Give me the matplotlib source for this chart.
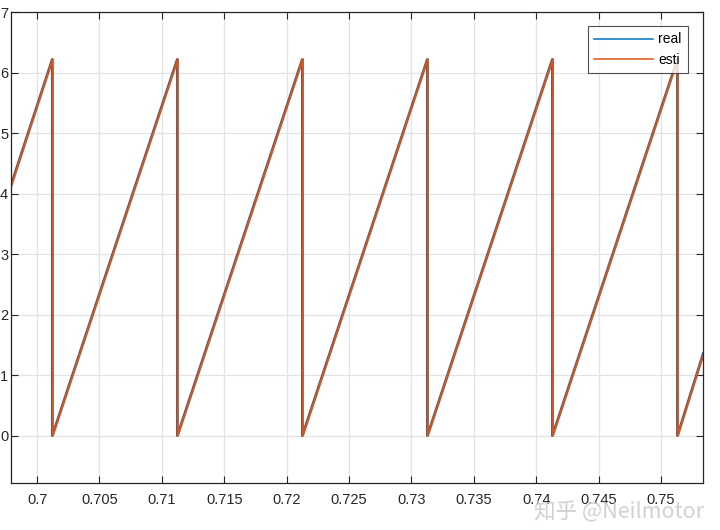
import matplotlib
matplotlib.use("Agg")
import matplotlib.pyplot as plt

# vertices of the two sawtooth traces (time in s, angle in rad)
real_t = [0.69791, 0.70120, 0.70120, 0.71122, 0.71122, 0.72124, 0.72124,
          0.73126, 0.73126, 0.74128, 0.74128, 0.75130, 0.75130, 0.75337]
real_y = [4.15, 6.22, 0.0, 6.22, 0.0, 6.22, 0.0,
          6.22, 0.0, 6.22, 0.0, 6.22, 0.0, 1.36]

esti_t = [0.69791, 0.70126, 0.70126, 0.71128, 0.71128, 0.72130, 0.72130,
          0.73132, 0.73132, 0.74134, 0.74134, 0.75136, 0.75136, 0.75337]
esti_y = [4.11, 6.22, 0.0, 6.22, 0.0, 6.22, 0.0,
          6.22, 0.0, 6.22, 0.0, 6.22, 0.0, 1.32]

x_ticks = [0.7, 0.705, 0.71, 0.715, 0.72, 0.725, 0.73, 0.735, 0.74, 0.745, 0.75]
x_labels = ["0.7", "0.705", "0.71", "0.715", "0.72", "0.725", "0.73",
            "0.735", "0.74", "0.745", "0.75"]
y_ticks = [0, 1, 2, 3, 4, 5, 6, 7]

plt.rcParams['font.family'] = ['Liberation Sans', 'DejaVu Sans']

fig = plt.figure(figsize=(7.2, 5.3), dpi=100)
ax = fig.add_axes([11 / 720, 47 / 530, 692 / 720, 471 / 530])

ax.plot(real_t, real_y, color='#0072BD', lw=1.6, label='real')
ax.plot(esti_t, esti_y, color='#D95319', lw=1.6, label='esti')

ax.set_xlim(0.69791, 0.75337)
ax.set_ylim(-0.78, 7.0)
ax.set_xticks(x_ticks)
ax.set_xticklabels(x_labels)
ax.set_yticks(y_ticks)

ax.grid(True, color='#e3e3e3', lw=0.9)
ax.set_axisbelow(True)
ax.tick_params(direction='in', top=True, right=True, length=5, width=0.8,
               labelsize=10.5, colors='#262626')
ax.tick_params(axis='x', pad=7)
ax.tick_params(axis='y', pad=2)
for s in ax.spines.values():
    s.set_color('#262626')
    s.set_linewidth(0.9)

leg = ax.legend(loc='upper right', bbox_to_anchor=(0.978, 0.970), fontsize=10,
                frameon=True, fancybox=False, handlelength=4.2,
                borderpad=0.45, labelspacing=0.45, handletextpad=0.4,
                borderaxespad=0)
leg.get_frame().set_edgecolor('#262626')
leg.get_frame().set_linewidth(0.8)
for h in leg.get_lines():
    h.set_linewidth(1.1)

# watermark
fig.text(0.742, 0.033, '知乎 @Neilmotor', fontsize=15.5, color='#c8c8c8',
         alpha=0.85, family=['Noto Sans CJK SC', 'DejaVu Sans'],
         ha='left', va='center')

fig.savefig('out.png', dpi=100, facecolor='white')
